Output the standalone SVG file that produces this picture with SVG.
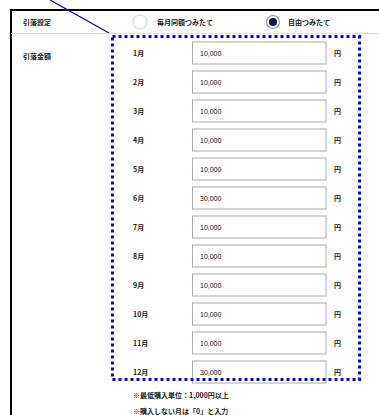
<svg xmlns="http://www.w3.org/2000/svg" width="379" height="415" viewBox="0 0 379 415">
<style>
.t{font-family:"Noto Sans CJK JP","Liberation Sans",sans-serif;font-size:7px;font-weight:bold;fill:#1a1a1a}
.n{font-family:"Liberation Sans","Noto Sans CJK JP",sans-serif;font-size:7px;fill:#111}
.box{fill:#fff;stroke:#aaa;stroke-width:1}
</style>
<rect width="379" height="415" fill="#fff"/>
<g id="frame">
<path d="M11 420 V10 H385" fill="none" stroke="#000" stroke-width="2"/>
<line x1="11" y1="33.5" x2="379" y2="33.5" stroke="#ddd" stroke-width="1"/>
</g>
<g id="header">
<text class="t" x="23" y="25">引落設定</text>
<circle cx="140" cy="22" r="7" fill="#fff" stroke="#ccc" stroke-width="1"/>
<text class="t" x="157" y="25">毎月同額つみたて</text>
<circle cx="273" cy="22" r="6.5" fill="#fff" stroke="#999" stroke-width="1.2"/>
<circle cx="273" cy="22" r="4" fill="#0d1b3e"/>
<text class="t" x="288" y="25">自由つみたて</text>
<text class="t" x="23" y="59">引落金額</text>
</g>
<g id="rows">
<g id="m1"><text class="t" x="133" y="56">1月</text><rect class="box" x="192.5" y="42" width="133.5" height="22"/><text class="n" x="200" y="56">10,000</text><text class="t" x="334" y="56">円</text></g>
<g id="m2"><text class="t" x="133" y="85">2月</text><rect class="box" x="192.5" y="71" width="133.5" height="22"/><text class="n" x="200" y="85">10,000</text><text class="t" x="334" y="85">円</text></g>
<g id="m3"><text class="t" x="133" y="114">3月</text><rect class="box" x="192.5" y="100" width="133.5" height="22"/><text class="n" x="200" y="114">10,000</text><text class="t" x="334" y="114">円</text></g>
<g id="m4"><text class="t" x="133" y="143">4月</text><rect class="box" x="192.5" y="129" width="133.5" height="22"/><text class="n" x="200" y="143">10,000</text><text class="t" x="334" y="143">円</text></g>
<g id="m5"><text class="t" x="133" y="172">5月</text><rect class="box" x="192.5" y="158" width="133.5" height="22"/><text class="n" x="200" y="172">10,000</text><text class="t" x="334" y="172">円</text></g>
<g id="m6"><text class="t" x="133" y="201">6月</text><rect class="box" x="192.5" y="187" width="133.5" height="22"/><text class="n" x="200" y="201">30,000</text><text class="t" x="334" y="201">円</text></g>
<g id="m7"><text class="t" x="133" y="230">7月</text><rect class="box" x="192.5" y="216" width="133.5" height="22"/><text class="n" x="200" y="230">10,000</text><text class="t" x="334" y="230">円</text></g>
<g id="m8"><text class="t" x="133" y="259">8月</text><rect class="box" x="192.5" y="245" width="133.5" height="22"/><text class="n" x="200" y="259">10,000</text><text class="t" x="334" y="259">円</text></g>
<g id="m9"><text class="t" x="133" y="288">9月</text><rect class="box" x="192.5" y="274" width="133.5" height="22"/><text class="n" x="200" y="288">10,000</text><text class="t" x="334" y="288">円</text></g>
<g id="m10"><text class="t" x="133" y="317">10月</text><rect class="box" x="192.5" y="303" width="133.5" height="22"/><text class="n" x="200" y="317">10,000</text><text class="t" x="334" y="317">円</text></g>
<g id="m11"><text class="t" x="133" y="346">11月</text><rect class="box" x="192.5" y="332" width="133.5" height="22"/><text class="n" x="200" y="346">10,000</text><text class="t" x="334" y="346">円</text></g>
<g id="m12"><text class="t" x="133" y="375">12月</text><rect class="box" x="192.5" y="361" width="133.5" height="22"/><text class="n" x="200" y="375">30,000</text><text class="t" x="334" y="375">円</text></g>
</g>
<g id="notes">
<text class="t" x="133" y="398" font-size="6.5">※最低購入単位：1,000円以上</text>
<text class="t" x="133" y="414" font-size="6.5">※購入しない月は「0」と入力</text>
</g>
<g id="connectors">
<rect x="112.5" y="36.5" width="247" height="343" fill="none" stroke="#0000ff" stroke-width="3" stroke-dasharray="3 3"/>
<line x1="50" y1="0" x2="109" y2="33" stroke="#0000cc" stroke-width="1.2"/>
</g>
</svg>
